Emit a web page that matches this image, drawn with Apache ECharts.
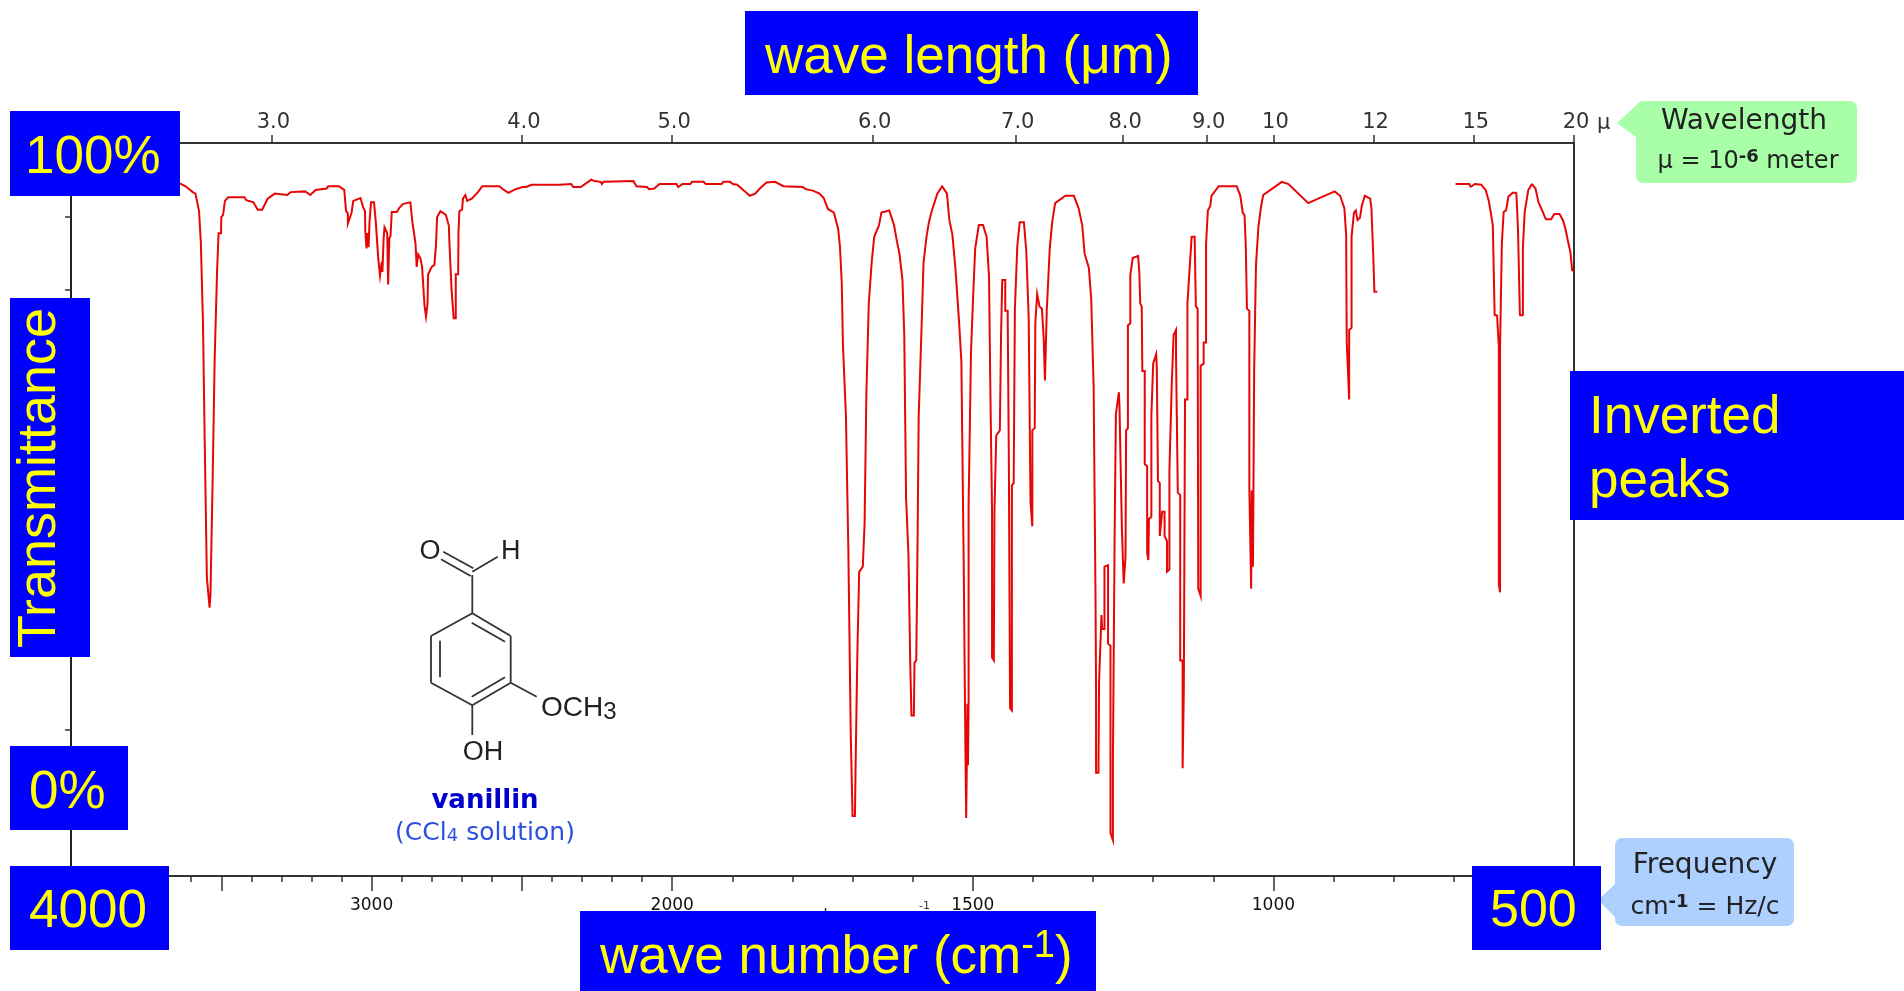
<!DOCTYPE html>
<html>
<head>
<meta charset="utf-8">
<title>Vanillin IR spectrum</title>
<script src="https://cdn.jsdelivr.net/npm/echarts@6/dist/echarts.min.js"></script>
<style>html,body{margin:0;padding:0;background:#fff}#c{width:1904px;height:991px}</style>
</head>
<body>
<div id="c"></div>
<script>
// [wave number cm-1, % transmittance]
const spectrumOH = [[3638,94.5],[3619,94.1],[3595,93.3],[3586,93.1],[3581,92.1],[3574,90.7],[3569,90.7],[3568,86.4],[3562,86.4],[3561,75.6],[3555,75.6],[3555,58.8],[3549,58.8],[3548,40.7],[3542,40.7],[3539,36.6],[3536,38.5],[3530,38.5],[3529,53.6],[3523,53.6],[3522,70.6],[3516,70.6],[3514,82.6],[3510,82.6],[3509,87.7],[3501,87.7],[3500,89.9],[3494,90.2],[3488,92.1],[3477,92.6],[3423,92.6],[3417,92.2],[3393,91.9],[3379,90.9],[3364,90.9],[3346,92.4],[3322,93.1],[3316,92.9],[3281,92.9],[3269,93.3],[3221,93.4],[3204,92.9],[3186,93.6],[3150,93.8],[3144,94.1],[3109,94.1],[3091,93.6]];
const spectrumCH = [[3085,90.7],[3079,90.4],[3079,89.0],[3067,90.4],[3061,92.1],[3037,92.5],[3028,91.2],[3022,90.7],[3021,88.0],[3017,85.6],[3014,87.7],[3010,85.8],[3007,89.2],[3002,91.9],[2992,91.9],[2986,89.2],[2981,89.0],[2978,84.3],[2972,81.9],[2966,83.8],[2964,82.4],[2960,87.0],[2957,88.5],[2948,87.7],[2945,80.7],[2941,87.0],[2937,87.3],[2933,90.6],[2916,90.6],[2907,91.2],[2895,91.7],[2871,91.9],[2865,89.4],[2860,89.2],[2854,86.3],[2850,83.1],[2845,84.8],[2838,84.3],[2832,83.1],[2826,82.9],[2824,77.8],[2819,76.3],[2814,78.0],[2812,82.1],[2800,83.1],[2791,83.4],[2786,86.0],[2782,89.9],[2771,90.7],[2753,90.2],[2743,88.7],[2741,86.3],[2735,86.3],[2734,80.0],[2727,76.1],[2720,76.1],[2720,82.1],[2712,82.1],[2711,87.7],[2708,90.7],[2699,90.9],[2696,92.4],[2688,92.9],[2682,92.1],[2667,92.4],[2646,93.3],[2632,94.1]];
const spectrumMidBase = [[2575,94.1],[2560,93.6],[2545,93.2],[2521,93.7],[2498,94.0],[2486,94.0],[2468,94.3],[2375,94.3],[2336,94.4],[2329,94.0],[2304,94.0],[2287,94.5],[2269,95.0],[2259,94.8],[2238,94.7],[2234,94.4],[2228,94.7],[2129,94.8],[2119,94.1],[2084,94.0],[2077,93.7],[2060,93.8],[2042,94.4],[1993,94.4],[1990,94.0],[1983,94.4],[1970,94.4],[1967,94.7],[1948,94.7],[1944,94.4],[1918,94.4],[1915,94.7],[1904,94.7],[1899,94.4],[1892,94.3],[1879,93.4],[1871,92.8],[1862,93.1],[1853,93.9],[1843,94.6],[1829,94.7],[1815,94.1],[1783,94.0],[1778,93.7],[1766,93.5],[1755,93.1],[1748,92.5],[1741,91.0]];
const spectrumDoubleBond = [[1731,90.5],[1724,88.3],[1721,85.9],[1718,81.0],[1716,72.5],[1711,62.7],[1707,44.4],[1703,19.3],[1700,19.3],[1700,8.2],[1696,8.2],[1695,14.7],[1692,30.4],[1689,41.5],[1683,42.2],[1680,48.0],[1677,66.0],[1673,78.1],[1668,83.9],[1664,87.2],[1656,88.8],[1652,90.5],[1639,90.8],[1631,88.8],[1626,86.5],[1622,84.9],[1617,81.3],[1614,73.8],[1611,51.6],[1607,43.8],[1604,28.8],[1602,21.9],[1598,21.9],[1597,29.1],[1594,29.4],[1592,44.8],[1590,62.7],[1585,75.4],[1582,83.6],[1577,87.2],[1573,89.2],[1568,90.8],[1559,93.1],[1551,94.1],[1543,93.1],[1539,89.5],[1534,87.5],[1529,83.0],[1523,75.8],[1519,70.2],[1515,41.5],[1513,23.5],[1512,15.1],[1511,7.9],[1510,15.1],[1509,23.5],[1508,15.1],[1507,23.5],[1507,50.6],[1503,71.5],[1499,80.0],[1496,85.6],[1490,88.8],[1483,88.8],[1477,87.2],[1473,81.7],[1471,67.6],[1468,49.7],[1468,29.8],[1465,29.4],[1464,49.7],[1461,60.1],[1455,60.8],[1453,73.8],[1451,81.3],[1446,81.3],[1446,77.1],[1442,77.1],[1440,56.2],[1438,22.9],[1435,22.6],[1435,53.3],[1432,53.6],[1430,77.4],[1426,85.9],[1422,89.2],[1415,89.2],[1411,85.2],[1407,76.1],[1404,51.0],[1401,47.7],[1401,60.8],[1397,61.1],[1396,75.4],[1393,79.4],[1390,79.4],[1389,77.7],[1385,77.4],[1382,73.2],[1380,67.6],[1377,67.6],[1377,77.1],[1374,77.1],[1372,85.6],[1368,89.2],[1363,91.8],[1346,92.8],[1332,92.8],[1324,91.1],[1318,88.8],[1314,84.9],[1307,83.0],[1303,78.7]];
const spectrumFingerprint = [[1299,66.6],[1296,39.2],[1295,26.2],[1295,14.1],[1291,14.1],[1290,26.5],[1286,35.6],[1285,33.7],[1281,33.7],[1281,42.2],[1275,42.4],[1275,31.7],[1271,31.4],[1271,5.9],[1267,4.9],[1267,15.1],[1264,15.1],[1264,47.4],[1262,47.4],[1262,63.0],[1259,63.0],[1257,66.0],[1256,64.0],[1253,64.0],[1252,47.4],[1249,47.4],[1249,39.9],[1246,43.5],[1245,60.8],[1242,61.1],[1242,75.1],[1238,75.4],[1238,82.0],[1234,84.3],[1225,84.6],[1223,82.3],[1221.5,78.1],[1219,77.7],[1218,68.9],[1214,68.9],[1214,56.2],[1210,55.9],[1210,44.1],[1208,43.1],[1207,48.7],[1203,49.0],[1203,62.7],[1200,62.7],[1200,69.9],[1195,71.2],[1194,69.6],[1192,53.9],[1189,53.6],[1189,46.4],[1185,49.7],[1181,49.7],[1181,46.4],[1177,45.7],[1177,41.5],[1173,41.8],[1173,55.2],[1170,55.2],[1169,67.3],[1166,67.3],[1166,73.8],[1162,74.5],[1162,71.2],[1159,71.1],[1159,52.3],[1155,52.0],[1155,29.4],[1151,29.4],[1151,14.7],[1149,25.5],[1147,25.5],[1147,65.0],[1143,65.0],[1143,78.1],[1140,78.1],[1138,84.6],[1136,87.2],[1131,87.2],[1129,77.7],[1126,77.4],[1125,39.2],[1121,38.2],[1121,69.6],[1116,69.9],[1116,72.8],[1112,72.8],[1112,86.2],[1109,86.2],[1109,90.8],[1105,91.4],[1103,92.8],[1091,94.1],[1061,94.1],[1055,92.8],[1051,90.5],[1048,90.1],[1046,86.2],[1044,77.4],[1040,77.1],[1040,52.9],[1037,39.2],[1036,52.6],[1034,42.2],[1032,68.9],[1029,83.3],[1025,88.5],[1021,91.1],[1017,92.9],[1003,93.7],[986,94.7],[975,94.4],[942,91.8],[934,92.1],[898,93.4],[889,92.8],[882,91.1],[879,87.5],[878,72.8],[874,65.0],[874,74.5],[870,74.8],[870,87.2],[866,90.5],[863,90.8],[860,89.5],[856,89.8],[853,91.4],[848,92.8],[839,92.4],[837,91.1],[834,84.9],[832,79.7],[827,79.7]];
const spectrumFarIR = [[697,94.4],[674,94.4],[672,94.0],[665,94.4],[654,94.3],[647,93.6],[642,92.2],[638,90.3],[635,88.7],[632,88.7],[632,76.5],[628,76.5],[625,72.2],[625,39.8],[623,38.7],[623,72.2],[620,72.2],[620,86.3],[617,86.3],[617,90.6],[613,90.8],[609,92.7],[602,93.2],[596,93.2],[595,91.7],[593,87.7],[590,87.5],[590,76.5],[585,76.5],[585,85.6],[582,85.6],[582,90.6],[579,90.8],[576,93.6],[570,94.4],[564,93.8],[559,91.9],[553,90.8],[547,89.6],[538,89.6],[533,90.3],[524,90.3],[518,89.4],[514,88.2],[510,86.6],[506,85.1],[503,82.6],[500,82.6]];

const wavelengths = [3,4,5,6,7,8,9,10,12,15,20];
const wavelengthLabels = ['3.0','4.0','5.0','6.0','7.0','8.0','9.0','10','12','15','20'];
const minorWaveNumbers = [3900,3800,3700,3600,3400,3300,3200,3100,2900,2800,2700,2600,2400,2300,2200,2100,1900,1800,1700,1600,1400,1300,1200,1100,900,800,700,600];
const majorWaveNumbers = [3500,3000,2500,2000,1500,1000];
const labelledWaveNumbers = [3000,2000,1500,1000];
const yTicks = [0,100];

// The instrument's frequency scale halves its pixels per cm-1 above 2000.
const toAxis = w => w <= 2000 ? w : 2000 + (w - 2000) / 2;
const fromAxis = u => u <= 2000 ? u : 2000 + (u - 2000) * 2;
const project = p => [toAxis(p[0]), p[1]];

const arial = '"Liberation Sans", Arial, sans-serif';
const dejavu = '"DejaVu Sans", Verdana, sans-serif';
const g = [];
function rect(x,y,w,h,fill,r,z){g.push({type:'rect',z:z||100,shape:{x,y,width:w,height:h,r:r||0},style:{fill}});}
function txt(text,x,y,size,fill,font,opt){
  opt=opt||{};
  g.push({type:'text',z:opt.z||101,x,y,rotation:opt.rot||0,style:{text,fill,
    font:(opt.weight||'normal')+' '+size+'px '+font,textAlign:opt.align||'left',textVerticalAlign:'middle',rich:opt.rich}});
}
function seg(x1,y1,x2,y2,w){g.push({type:'line',z:60,shape:{x1,y1,x2,y2},style:{stroke:'#333',lineWidth:w||1.8}});}
function poly(points,fill,z){g.push({type:'polygon',z:z||90,shape:{points},style:{fill}});}

// callouts
poly([[1617,123],[1641,101],[1636,137]],'#a8ffa8');
rect(1636,101,221,82,'#a8ffa8',7,90);
txt('Wavelength',1744,122,28,'#222',dejavu,{align:'center',z:91});
txt('μ = 10{s|-6} meter',1748,162,24,'#222',dejavu,{align:'center',z:91,rich:{s:{font:'bold 18px '+dejavu,fill:'#222',padding:[0,0,10,0]}}});
poly([[1615,884],[1598,900],[1615,917]],'#add0ff');
rect(1615,838,179,88,'#add0ff',7,90);
txt('Frequency',1705,866,28,'#222',dejavu,{align:'center',z:91});
txt('cm{s|-1} = Hz/c',1705,907,25,'#222',dejavu,{align:'center',z:91,rich:{s:{font:'bold 18px '+dejavu,fill:'#222',padding:[0,0,10,0]}}});
txt('μ',1597,124,21,'#333',dejavu);

// molecule sketch (annotation)
const ring=[[472.3,613.3],[510.7,636],[510.7,682.7],[472.3,705.3],[431,682.7],[431,636],[472.3,613.3]];
for(let i=0;i<6;i++)seg(ring[i][0],ring[i][1],ring[i+1][0],ring[i+1][1]);
seg(471.7,622.7,505,641.7);seg(440,640.7,440,677.3);seg(471.7,696.7,505,677.3);
seg(472.3,613.3,472.3,575);seg(472.3,571.7,497.7,556.7);seg(443.3,551.7,473.3,568.3);seg(441,559.3,470.7,576);
seg(510.7,682.7,536.7,696.7);seg(472.3,705.3,472.3,735);
txt('O',430,552,27,'#222',arial,{align:'center'});
txt('H',510.7,552,27,'#222',arial,{align:'center'});
txt('OCH{s|3}',541,708,28,'#222',arial,{rich:{s:{font:'24px '+arial,fill:'#222',padding:[8,0,0,0]}}});
txt('OH',483,753,27,'#222',arial,{align:'center'});
txt('vanillin',485,801,26,'#0000cc',dejavu,{align:'center',weight:'bold'});
txt('(CCl{s|4} solution)',485,833,25,'#2b50e0',dejavu,{align:'center',rich:{s:{font:'18px '+dejavu,fill:'#2b50e0',padding:[6,0,0,0]}}});

// fragments of the hidden axis title
txt('-1',919,906,11,'#333',dejavu);
seg(825.5,908,825.5,912,1.5);

// blue teaching labels
function box(x,y,w,h){rect(x,y,w,h,'#0000ff');}
const Y='#ffff00';
box(10,111,170,85); txt('100%',25,158,53,Y,arial);
box(745,11,453,84); txt('wave length (μm)',765,58,53,Y,arial);
box(10,298,80,359); txt('Transmittance',40,648,54,Y,arial,{rot:Math.PI/2});
box(10,746,118,84); txt('0%',29,793,53,Y,arial);
box(10,866,159,84); txt('4000',29,912,53,Y,arial);
box(580,911,516,80); txt('wave number (cm{s|-1})',600,958,53,Y,arial,{rich:{s:{font:'38px '+arial,fill:Y,padding:[0,0,22,0]}}});
box(1472,866,129,84); txt('500',1490,912,52,Y,arial);
box(1570,371,334,149); txt('Inverted',1589,418,53,Y,arial); txt('peaks',1589,482,53,Y,arial);

const axisLine = {show:true,onZero:false,lineStyle:{color:'#333',width:2}};
const tickLine = {color:'#333',width:1.5};
const xBase = {type:'value',min:500,max:3000,inverse:true,gridIndex:0,splitLine:{show:false},axisPointer:{show:false}};

const option = {
  animation:false,
  backgroundColor:'#fff',
  grid:{left:71,right:330,top:143,bottom:115,containLabel:false},
  xAxis:[
    Object.assign({},xBase,{position:'bottom',axisLine,
      axisTick:{show:true,length:6,inside:false,lineStyle:tickLine,customValues:minorWaveNumbers.map(toAxis)},
      axisLabel:{show:false}}),
    Object.assign({},xBase,{position:'bottom',axisLine:{show:false},
      axisTick:{show:true,length:15,lineStyle:tickLine,customValues:majorWaveNumbers.map(toAxis)},
      axisLabel:{show:true,margin:21,color:'#111',fontFamily:dejavu,fontSize:17,
        customValues:labelledWaveNumbers.map(toAxis),
        formatter:v=>String(Math.round(fromAxis(v)))}}),
    Object.assign({},xBase,{position:'top',axisLine,
      axisTick:{show:true,length:8,lineStyle:tickLine,customValues:wavelengths.map(l=>toAxis(1e4/l))},
      axisLabel:{show:true,margin:10,color:'#333',fontFamily:dejavu,fontSize:21,padding:[0,0,0,4],
        customValues:wavelengths.map(l=>toAxis(1e4/l)),
        formatter:v=>{const l=1e4/fromAxis(v);let b=0;wavelengths.forEach((w,i)=>{if(Math.abs(w-l)<Math.abs(wavelengths[b]-l))b=i;});return wavelengthLabels[b];}}})
  ],
  yAxis:[
    {type:'value',min:yTicks[0],max:yTicks[1],interval:10,position:'left',splitLine:{show:false},
      axisLine:{show:true,onZero:false,lineStyle:{color:'#222',width:2}},
      axisTick:{show:true,length:6,lineStyle:tickLine},axisLabel:{show:false}},
    {type:'value',min:yTicks[0],max:yTicks[1],position:'right',splitLine:{show:false},
      axisLine:{show:true,onZero:false,lineStyle:{color:'#333',width:2}},
      axisTick:{show:false},axisLabel:{show:false}}
  ],
  series:[
    {type:'line',xAxisIndex:0,yAxisIndex:0,showSymbol:false,silent:true,clip:false,
      data:[].concat(spectrumOH,spectrumCH,spectrumMidBase,spectrumDoubleBond,spectrumFingerprint).map(project),
      lineStyle:{color:'#e60606',width:2,join:'miter'}},
    {type:'line',xAxisIndex:0,yAxisIndex:0,showSymbol:false,silent:true,clip:false,
      data:spectrumFarIR.map(project),
      lineStyle:{color:'#e60606',width:2}}
  ],
  graphic:{elements:g}
};
const chart = echarts.init(document.getElementById('c'),null,{renderer:'canvas'});
chart.setOption(option);
</script>
</body>
</html>
